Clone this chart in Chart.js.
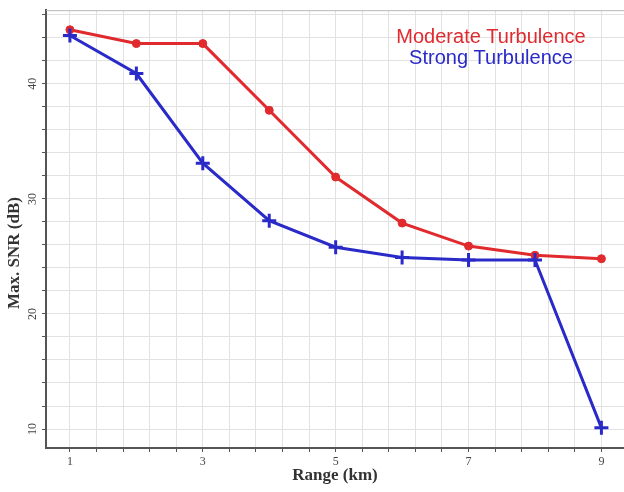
<!DOCTYPE html>
<html>
<head>
<meta charset="utf-8">
<script src="https://cdn.jsdelivr.net/npm/chart.js@4.4.1/dist/chart.umd.min.js"></script>
<style>
  html, body { margin: 0; padding: 0; background: #fff; }
  #wrap { width: 624px; height: 492px; }
</style>
</head>
<body>
<div id="wrap"><canvas id="snrChart"></canvas></div>
<script>
// Range (km)
const ranges = [1, 2, 3, 4, 5, 6, 7, 8, 9];
// Max. SNR (dB)
const moderateSNR = [44.7, 43.5, 43.5, 37.7, 31.9, 27.9, 25.9, 25.1, 24.8];
const strongSNR = [44.2, 40.9, 33.1, 28.1, 25.8, 24.9, 24.7, 24.7, 10.1];
// labelled ticks
const xTickLabels = [1, 3, 5, 7, 9];
const yTickLabels = [10, 20, 30, 40];

const RED = "#e02a2e";
const BLUE = "#2a2ac8";
const serif = '"Liberation Serif", "Times New Roman", serif';

function toPoints(xs, ys) {
  return xs.map((x, i) => ({ x: x, y: ys[i] }));
}

// legend text, y axis title and top frame line
const overlayPlugin = {
  id: "overlay",
  afterDraw(chart) {
    const ctx = chart.ctx;
    const area = chart.chartArea;
    ctx.save();
    ctx.strokeStyle = "#b8b8b8";
    ctx.lineWidth = 1;
    ctx.beginPath();
    ctx.moveTo(area.left, area.top + 0.5);
    ctx.lineTo(area.right, area.top + 0.5);
    ctx.stroke();

    ctx.font = '20px "Liberation Sans", Arial, sans-serif';
    ctx.textAlign = "center";
    ctx.textBaseline = "middle";
    chart.data.datasets.forEach((ds, i) => {
      ctx.fillStyle = ds.borderColor;
      ctx.fillText(ds.label, 491, 37 + i * 21);
    });

    ctx.translate(15, 253);
    ctx.rotate(-Math.PI / 2);
    ctx.font = "bold 17px " + serif;
    ctx.fillStyle = "#333";
    ctx.fillText("Max. SNR (dB)", 0, 0);
    ctx.restore();
  }
};

document.addEventListener("DOMContentLoaded", function () {
  const ctx = document.getElementById("snrChart");
  new Chart(ctx, {
    type: "line",
    data: {
      datasets: [
        {
          label: "Moderate Turbulence",
          data: toPoints(ranges, moderateSNR),
          borderColor: RED,
          backgroundColor: RED,
          borderWidth: 3,
          tension: 0,
          pointStyle: "circle",
          pointRadius: 4,
          pointBorderWidth: 1,
          order: 1
        },
        {
          label: "Strong Turbulence",
          data: toPoints(ranges, strongSNR),
          borderColor: BLUE,
          backgroundColor: BLUE,
          borderWidth: 3,
          tension: 0,
          pointStyle: "cross",
          pointRadius: 7,
          pointBorderWidth: 3,
          order: 0
        }
      ]
    },
    options: {
      responsive: true,
      maintainAspectRatio: false,
      animation: false,
      // autoPadding would reserve room for the big cross markers on every side
      layout: { autoPadding: false, padding: { top: 10, right: 0, left: 0, bottom: 0 } },
      plugins: {
        legend: { display: false },
        tooltip: { enabled: false }
      },
      scales: {
        x: {
          type: "linear",
          min: 0.64,
          max: 9.34,
          afterBuildTicks: (scale) => {
            const t = [];
            for (let k = 0; 1 + k * 0.4 <= 9.3; k++) {
              t.push({ value: Math.round((1 + k * 0.4) * 10) / 10 });
            }
            scale.ticks = t;
          },
          afterFit: (scale) => { scale.height = 44; },
          ticks: {
            autoSkip: false,
            maxRotation: 0,
            padding: 3,
            color: "#444",
            font: { family: serif, size: 12 },
            callback: (v) => (xTickLabels.includes(v) ? String(v) : "")
          },
          grid: { color: "#e2e2e2", tickColor: "#555", tickLength: 4 },
          border: { color: "#555", width: 2 },
          title: {
            display: true,
            text: "Range (km)",
            color: "#333",
            font: { family: serif, size: 17, weight: "bold" },
            padding: { top: 0, bottom: 6 }
          }
        },
        y: {
          min: 8.35,
          max: 46.4,
          afterBuildTicks: (scale) => {
            const t = [];
            for (let v = 10; v <= 46; v += 2) t.push({ value: v });
            scale.ticks = t;
          },
          afterFit: (scale) => { scale.width = 46; },
          ticks: {
            autoSkip: false,
            minRotation: 90,
            maxRotation: 90,
            crossAlign: "center",
            padding: 3,
            color: "#444",
            font: { family: serif, size: 12 },
            callback: (v) => (yTickLabels.includes(v) ? String(v) : "")
          },
          grid: { color: "#e2e2e2", tickColor: "#555", tickLength: 4 },
          border: { color: "#555", width: 2 }
        }
      }
    },
    plugins: [overlayPlugin]
  });
});
</script>
</body>
</html>
